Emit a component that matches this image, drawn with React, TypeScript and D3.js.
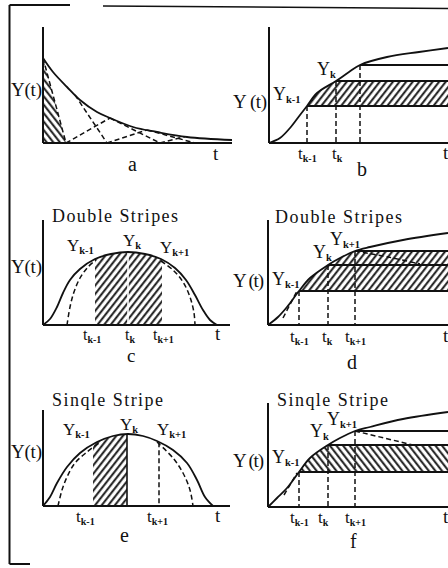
import React from "react";
import * as d3 from "d3";

type Pt = [number, number];

const SERIF = "'Liberation Serif', 'Times New Roman', serif";
const INK = "#111";

// ---------- panel a: decaying response with chord construction ----------
const aCurve: Pt[] = [[0, 85], [10, 71], [24, 56], [37, 43], [54, 31], [67, 25], [90, 16], [114, 11], [144, 6], [189, 3]];
const aHatchBase = 23; // axis point closing the shaded triangle
const aDownChords: Pt[] = [[32, 64], [67, 117], [104, 152]]; // [t on curve, t on axis]
const aUpChords: Pt[] = [[23, 67], [64, 104], [117, 142]]; // [t on axis, t on curve]

// ---------- panel b: rising response, one band ----------
const bCurve: Pt[] = [[0, 0], [11, 5], [21, 15], [31, 28], [38, 37], [48, 50], [67, 62], [80, 71], [91, 78], [118, 86], [150, 91], [179, 95]];
const bTimes = [38, 67, 91];
const bLevels = [37, 62, 78];

// ---------- panel c: bell response, double stripes ----------
const cCurve: Pt[] = [[0, 0], [7, 6], [14, 18], [20, 32], [27, 45], [37, 56], [52, 66], [68, 71], [85, 73], [102, 71], [118, 66], [132, 57], [143, 45], [152, 30], [160, 15], [167, 5], [174, 0]];
const cDashLeft: Pt[] = [[24, 0], [27, 18], [31, 33], [37, 47], [45, 58], [53, 65]];
const cDashRight: Pt[] = [[118, 64], [130, 55], [140, 43], [147, 28], [151, 12], [152, 0]];
const cTimes = [52, 85, 119];

// ---------- panel d: rising response, two bands ----------
const dCurve: Pt[] = [[0, 0], [10, 8], [19, 18], [31, 34], [42, 47], [60, 60], [72, 67], [87, 74], [102, 78], [135, 85], [180, 92]];
const dTimes = [31, 60, 87];
const dLevels = [34, 60, 74];
const dDashNear: Pt[] = [[15, 7], [29, 34]];
const dDashTail: Pt[] = [[87, 74], [120, 68], [152, 61]];

// ---------- panel e: bell response, single stripe ----------
const eCurve: Pt[] = [[0, 0], [7, 9], [14, 23], [24, 39], [37, 53], [54, 64], [70, 70], [85, 72], [100, 70], [114, 65], [130, 56], [144, 43], [154, 26], [162, 9], [170, 0]];
const eDashLeft: Pt[] = [[15, 0], [19, 16], [24, 29], [32, 43], [44, 54], [56, 63]];
const eDashRight: Pt[] = [[114, 64], [130, 48], [140, 33], [147, 16], [150, 0]];
const eTimes = [50, 84, 116];

// ---------- panel f: rising response, single band ----------
const fCurve: Pt[] = [[0, 0], [9, 9], [19, 19], [31, 35], [42, 49], [60, 62], [72, 69], [87, 76], [102, 80], [135, 88], [180, 95]];
const fTimes = [31, 60, 87];
const fLevels = [35, 62, 76];
const fDashNear: Pt[] = [[16, 12], [29, 34]];
const fDashTail: Pt[] = [[87, 76], [145, 62]];

// axis boxes of the six panels (origin and axis lengths)
type Frame = { x0: number; y0: number; w: number; h: number };
const FRAME_A: Frame = { x0: 43, y0: 143, w: 189, h: 116 };
const FRAME_B: Frame = { x0: 269, y0: 143, w: 179, h: 116 };
const FRAME_C: Frame = { x0: 43, y0: 325, w: 187, h: 105 };
const FRAME_D: Frame = { x0: 268, y0: 325, w: 180, h: 105 };
const FRAME_E: Frame = { x0: 43, y0: 506, w: 187, h: 96 };
const FRAME_F: Frame = { x0: 268, y0: 507, w: 180, h: 104 };

function scales(f: Frame) {
  const x = d3.scaleLinear().domain([0, f.w]).range([f.x0, f.x0 + f.w]);
  const y = d3.scaleLinear().domain([0, f.h]).range([f.y0, f.y0 - f.h]);
  const line = d3
    .line<Pt>()
    .x((p) => x(p[0]))
    .y((p) => y(p[1]))
    .curve(d3.curveCatmullRom.alpha(0.5));
  const area = d3
    .area<Pt>()
    .x((p) => x(p[0]))
    .y0(y(0))
    .y1((p) => y(p[1]))
    .curve(d3.curveCatmullRom.alpha(0.5));
  return { x, y, line, area };
}

const valueAt = (curve: Pt[]) =>
  d3.scaleLinear().domain(curve.map((p) => p[0])).range(curve.map((p) => p[1]));

const DASH = "5,3";

function Axes({ f }: { f: Frame }) {
  return (
    <g stroke={INK} strokeWidth={2} fill="none">
      <line x1={f.x0} y1={f.y0} x2={f.x0} y2={f.y0 - f.h} />
      <line x1={f.x0} y1={f.y0} x2={f.x0 + f.w} y2={f.y0} />
    </g>
  );
}

function Sub({ x, y, main, sub, size = 18, subSize = 10.5 }: { x: number; y: number; main: string; sub: string; size?: number; subSize?: number }) {
  return (
    <text x={x} y={y} fontSize={size} fill={INK}>
      {main}
      <tspan fontSize={subSize} fontWeight="bold" dy={3}>
        {sub}
      </tspan>
    </text>
  );
}

function Txt({ x, y, s, size = 19, len }: { x: number; y: number; s: string; size?: number; len?: number }) {
  return (
    <text x={x} y={y} fontSize={size} fill={INK} textLength={len} lengthAdjust={len ? "spacing" : undefined}>
      {s}
    </text>
  );
}

function PanelA() {
  const f = FRAME_A;
  const { x, y, line } = scales(f);
  const v = valueAt(aCurve);
  const tri: Pt[] = [[0, 0], [0, aCurve[0][1]], [aHatchBase, 0]];
  const poly = tri.map((p) => `${x(p[0])},${y(p[1])}`).join(" ");
  return (
    <g>
      <polygon points={poly} fill="url(#hatchBack)" />
      <g stroke={INK} strokeWidth={1.5} strokeDasharray={DASH} fill="none">
        <line x1={x(0)} y1={y(aCurve[0][1])} x2={x(aHatchBase)} y2={y(0)} />
        {aDownChords.map(([tc, ta], i) => (
          <line key={"d" + i} x1={x(tc)} y1={y(v(tc))} x2={x(ta)} y2={y(0)} />
        ))}
        {aUpChords.map(([ta, tc], i) => (
          <line key={"u" + i} x1={x(ta)} y1={y(0)} x2={x(tc)} y2={y(v(tc))} />
        ))}
      </g>
      <path d={line(aCurve) ?? ""} fill="none" stroke={INK} strokeWidth={1.8} />
      <Axes f={f} />
      <Txt x={11} y={96} s="Y(t)" len={31} />
      <Txt x={213} y={160} s="t" />
      <Txt x={128} y={171} s="a" size={20} />
    </g>
  );
}

type SatProps = {
  id: string;
  f: Frame;
  curve: Pt[];
  times: number[];
  levels: number[];
  band: [number, number];
  hatch: string;
  dashNear?: Pt[];
  dashTail?: Pt[];
};

function SaturationPlot({ id, f, curve, times, levels, band, hatch, dashNear, dashTail }: SatProps) {
  const { x, y, line, area } = scales(f);
  const right = x(f.w);
  return (
    <g>
      <defs>
        <clipPath id={id}>
          <path d={area(curve) ?? ""} />
        </clipPath>
      </defs>
      <rect
        x={x(0)}
        y={y(band[1])}
        width={f.w}
        height={y(band[0]) - y(band[1])}
        fill={`url(#${hatch})`}
        clipPath={`url(#${id})`}
      />
      <g stroke={INK} strokeWidth={1.8}>
        {levels.map((lv, i) => (
          <line key={i} x1={x(times[i])} y1={y(lv)} x2={right} y2={y(lv)} />
        ))}
      </g>
      <g stroke={INK} strokeWidth={1.5} strokeDasharray={DASH} fill="none">
        {times.map((t, i) => (
          <line key={i} x1={x(t)} y1={y(levels[i])} x2={x(t)} y2={y(0)} />
        ))}
        {dashNear && <path d={line(dashNear) ?? ""} />}
        {dashTail && <path d={line(dashTail) ?? ""} />}
      </g>
      <path d={line(curve) ?? ""} fill="none" stroke={INK} strokeWidth={1.8} />
      <Axes f={f} />
    </g>
  );
}

type BellProps = {
  id: string;
  f: Frame;
  curve: Pt[];
  dashLeft: Pt[];
  dashRight: Pt[];
  stripe: [number, number];
};

function BellPlot({ id, f, curve, dashLeft, dashRight, stripe, children }: BellProps & { children?: React.ReactNode }) {
  const { x, y, line, area } = scales(f);
  return (
    <g>
      <defs>
        <clipPath id={id}>
          <path d={area(curve) ?? ""} />
        </clipPath>
      </defs>
      <rect
        x={x(stripe[0])}
        y={y(f.h)}
        width={x(stripe[1]) - x(stripe[0])}
        height={f.h}
        fill="url(#hatchFwd)"
        clipPath={`url(#${id})`}
      />
      {children}
      <g stroke={INK} strokeWidth={1.5} strokeDasharray={DASH} fill="none">
        <path d={line(dashLeft) ?? ""} />
        <path d={line(dashRight) ?? ""} />
      </g>
      <path d={line(curve) ?? ""} fill="none" stroke={INK} strokeWidth={1.8} />
      <Axes f={f} />
    </g>
  );
}

function PanelB() {
  return (
    <g>
      <SaturationPlot id="clipB" f={FRAME_B} curve={bCurve} times={bTimes} levels={bLevels} band={[bLevels[0], bLevels[1]]} hatch="hatchFwd" />
      <Txt x={233} y={108} s="Y (t)" len={34} />
      <Sub x={273} y={100} main="Y" sub="k-1" />
      <Sub x={317} y={75} main="Y" sub="k" />
      <Sub x={298} y={159} main="t" sub="k-1" size={17} subSize={10} />
      <Sub x={332} y={159} main="t" sub="k" size={17} subSize={10} />
      <Txt x={443} y={159} s="t" />
      <Txt x={357} y={176} s="b" size={20} />
    </g>
  );
}

function PanelC() {
  const f = FRAME_C;
  const { x, y } = scales(f);
  const v = valueAt(cCurve);
  return (
    <g>
      <BellPlot id="clipC" f={f} curve={cCurve} dashLeft={cDashLeft} dashRight={cDashRight} stripe={[cTimes[0], cTimes[2]]}>
        <line x1={x(cTimes[1])} y1={y(v(cTimes[1]))} x2={x(cTimes[1])} y2={y(0)} stroke="#fff" strokeWidth={1.6} />
      </BellPlot>
      <Txt x={52} y={222} s="Double Stripes" size={18} len={126} />
      <Txt x={11} y={273} s="Y(t)" len={31} />
      <Sub x={67} y={251} main="Y" sub="k-1" size={17} />
      <Sub x={123} y={246} main="Y" sub="k" size={17} />
      <Sub x={160} y={253} main="Y" sub="k+1" size={17} />
      <Sub x={83} y={340} main="t" sub="k-1" size={16} subSize={10} />
      <Sub x={125} y={340} main="t" sub="k" size={16} subSize={10} />
      <Sub x={153} y={340} main="t" sub="k+1" size={16} subSize={10} />
      <Txt x={215} y={340} s="t" />
      <Txt x={127} y={362} s="c" size={19} />
    </g>
  );
}

function PanelD() {
  return (
    <g>
      <SaturationPlot id="clipD" f={FRAME_D} curve={dCurve} times={dTimes} levels={dLevels} band={[dLevels[0], dLevels[2]]} hatch="hatchFwd" dashNear={dDashNear} dashTail={dDashTail} />
      <Txt x={275} y={223} s="Double Stripes" size={18} len={127} />
      <Txt x={233} y={287} s="Y (t)" len={31} />
      <Sub x={272} y={285} main="Y" sub="k-1" />
      <Sub x={313} y={258} main="Y" sub="k" />
      <Sub x={330} y={245} main="Y" sub="k+1" />
      <Sub x={290} y={342} main="t" sub="k-1" size={17} subSize={10} />
      <Sub x={322} y={342} main="t" sub="k" size={17} subSize={10} />
      <Sub x={345} y={342} main="t" sub="k+1" size={17} subSize={10} />
      <Txt x={443} y={342} s="t" />
      <Txt x={347} y={369} s="d" size={20} />
    </g>
  );
}

function PanelE() {
  const f = FRAME_E;
  const { x, y } = scales(f);
  const v = valueAt(eCurve);
  return (
    <g>
      <BellPlot id="clipE" f={f} curve={eCurve} dashLeft={eDashLeft} dashRight={eDashRight} stripe={[eTimes[0], eTimes[1]]}>
        <line x1={x(eTimes[1])} y1={y(v(eTimes[1]))} x2={x(eTimes[1])} y2={y(0)} stroke={INK} strokeWidth={1.6} />
        <line x1={x(eTimes[2])} y1={y(v(eTimes[2]))} x2={x(eTimes[2])} y2={y(0)} stroke={INK} strokeWidth={1.5} strokeDasharray={DASH} />
      </BellPlot>
      <Txt x={52} y={406} s="Sinqle Stripe" size={18} len={111} />
      <Txt x={11} y={458} s="Y(t)" len={31} />
      <Sub x={63} y={435} main="Y" sub="k-1" size={17} />
      <Sub x={120} y={430} main="Y" sub="k" size={17} />
      <Sub x={157} y={435} main="Y" sub="k+1" size={17} />
      <Sub x={76} y={522} main="t" sub="k-1" size={17} subSize={10} />
      <Sub x={147} y={522} main="t" sub="k+1" size={17} subSize={10} />
      <Txt x={215} y={522} s="t" />
      <Txt x={120} y={542} s="e" size={20} />
    </g>
  );
}

function PanelF() {
  return (
    <g>
      <SaturationPlot id="clipF" f={FRAME_F} curve={fCurve} times={fTimes} levels={fLevels} band={[fLevels[0], fLevels[1]]} hatch="hatchBack" dashNear={fDashNear} dashTail={fDashTail} />
      <Txt x={277} y={406} s="Sinqle Stripe" size={18} len={111} />
      <Txt x={233} y={467} s="Y (t)" len={31} />
      <Sub x={272} y={463} main="Y" sub="k-1" />
      <Sub x={310} y={437} main="Y" sub="k" />
      <Sub x={327} y={425} main="Y" sub="k+1" />
      <Sub x={290} y={523} main="t" sub="k-1" size={17} subSize={10} />
      <Sub x={318} y={523} main="t" sub="k" size={17} subSize={10} />
      <Sub x={345} y={523} main="t" sub="k+1" size={17} subSize={10} />
      <Txt x={443} y={523} s="t" />
      <Txt x={350} y={548} s="f" size={20} />
    </g>
  );
}

export default function App() {
  return (
    <svg
      width={448}
      height={568}
      viewBox="0 0 448 568"
      style={{ position: "absolute", left: 0, top: 0, background: "#fff" }}
      fontFamily={SERIF}
    >
      <defs>
        <pattern id="hatchFwd" patternUnits="userSpaceOnUse" width={5.2} height={10} patternTransform="rotate(38)">
          <line x1={1.2} y1={-1} x2={1.2} y2={11} stroke={INK} strokeWidth={1.9} />
        </pattern>
        <pattern id="hatchBack" patternUnits="userSpaceOnUse" width={5.2} height={10} patternTransform="rotate(-38)">
          <line x1={1.2} y1={-1} x2={1.2} y2={11} stroke={INK} strokeWidth={1.9} />
        </pattern>
      </defs>
      <rect x={0} y={0} width={448} height={568} fill="#fff" />
      {/* outer frame */}
      <g stroke={INK} strokeWidth={2}>
        <line x1={9.5} y1={5} x2={9.5} y2={564} />
        <line x1={9.5} y1={5} x2={70} y2={5} />
        <line x1={103} y1={6} x2={448} y2={8.5} strokeWidth={1.5} />
        <line x1={9.5} y1={564} x2={30} y2={564} />
      </g>
      <PanelA />
      <PanelB />
      <PanelC />
      <PanelD />
      <PanelE />
      <PanelF />
    </svg>
  );
}
